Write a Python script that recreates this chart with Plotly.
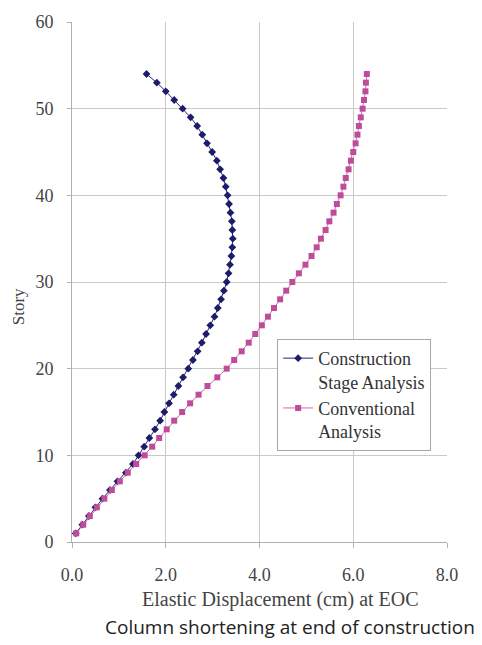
import plotly.graph_objects as go

stories = list(range(1, 55))

construction_stage = [
    0.08, 0.22, 0.36, 0.50, 0.65, 0.81, 0.97, 1.15, 1.30, 1.42,
    1.54, 1.65, 1.77, 1.88, 1.97, 2.07, 2.17, 2.27, 2.37, 2.48,
    2.58, 2.68, 2.77, 2.86, 2.95, 3.04, 3.11, 3.18, 3.24, 3.30,
    3.34, 3.37, 3.40, 3.42, 3.43, 3.42, 3.41, 3.38, 3.35, 3.32,
    3.28, 3.23, 3.16, 3.09, 2.99, 2.88, 2.78, 2.67, 2.53, 2.36,
    2.18, 2.00, 1.81, 1.59,
]

conventional = [
    0.09, 0.24, 0.38, 0.53, 0.69, 0.85, 1.02, 1.19, 1.37, 1.55,
    1.71, 1.86, 2.02, 2.18, 2.35, 2.52, 2.70, 2.89, 3.10, 3.30,
    3.46, 3.62, 3.77, 3.91, 4.05, 4.18, 4.31, 4.44, 4.57, 4.70,
    4.84, 4.98, 5.11, 5.22, 5.31, 5.41, 5.49, 5.58, 5.65, 5.73,
    5.79, 5.84, 5.90, 5.95, 6.00, 6.05, 6.09, 6.12, 6.16, 6.20,
    6.23, 6.26, 6.27, 6.29,
]

x_ticks = [0, 2, 4, 6, 8]
x_tick_labels = ["0.0", "2.0", "4.0", "6.0", "8.0"]
y_ticks = [0, 10, 20, 30, 40, 50, 60]

serif = "Liberation Serif"
grid = "#c9c9c9"

fig = go.Figure()
fig.add_trace(go.Scatter(
    x=construction_stage, y=stories, mode="lines+markers",
    name="Construction<br>Stage Analysis",
    line=dict(color="#23237a", width=1),
    marker=dict(symbol="diamond", size=6, color="#1c1c6a"),
))
fig.add_trace(go.Scatter(
    x=conventional, y=stories, mode="lines+markers",
    name="Conventional<br>Analysis",
    line=dict(color="#d06aae", width=1),
    marker=dict(symbol="square", size=6, color="#bf4c9a"),
))

fig.update_layout(
    width=482, height=645,
    margin=dict(l=72, r=35, t=17, b=103),
    paper_bgcolor="white", plot_bgcolor="white",
    showlegend=True,
    legend=dict(
        x=0.547, y=0.3905, xanchor="left", yanchor="top",
        bgcolor="white", bordercolor="#a8a8a8", borderwidth=1,
        font=dict(family=serif, size=18, color="#333333"),
        valign="top", itemwidth=30, tracegroupgap=0,
    ),
    font=dict(family=serif, color="#333333"),
)

fig.update_xaxes(
    range=[0, 8], tickvals=x_ticks, ticktext=x_tick_labels,
    showgrid=True, gridcolor=grid, gridwidth=1,
    showline=True, linecolor="#b0b0b0", linewidth=1, mirror=False,
    ticks="outside", ticklen=5, tickcolor="#b0b0b0",
    tickfont=dict(family=serif, size=18, color="#444444"),
    ticklabelstandoff=11, zeroline=False,
)
fig.update_yaxes(
    range=[0, 60], tickvals=y_ticks,
    showgrid=True, gridcolor=grid, gridwidth=1,
    showline=True, linecolor="#b0b0b0", linewidth=1,
    ticks="outside", ticklen=4, tickcolor="#b0b0b0",
    tickfont=dict(family=serif, size=18, color="#444444"),
    ticklabelstandoff=10, zeroline=False,
)

fig.add_annotation(
    text="Elastic Displacement (cm) at EOC", xref="paper", yref="paper",
    x=(280 - 72) / 375, y=-(600 - 542) / 525, xanchor="center", yanchor="middle",
    showarrow=False, font=dict(family=serif, size=20, color="#444444"),
)
fig.add_annotation(
    text="Story", xref="paper", yref="paper",
    x=-(72 - 18) / 375, y=(542 - 305) / 525, xanchor="center", yanchor="middle",
    textangle=-90, showarrow=False,
    font=dict(family=serif, size=17, color="#444444"),
)
fig.add_annotation(
    text="Column shortening at end of construction", xref="paper", yref="paper",
    x=(290 - 72) / 375, y=-(628 - 542) / 525, xanchor="center", yanchor="middle",
    showarrow=False, font=dict(family="Open Sans", size=19, color="#222222"),
)

fig.write_html("out.html")
